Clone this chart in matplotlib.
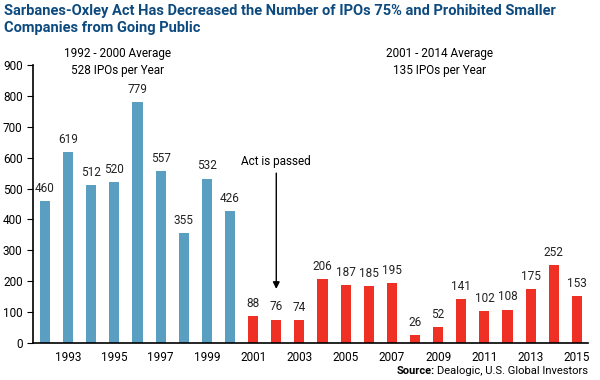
import matplotlib
matplotlib.use("Agg")
import matplotlib.pyplot as plt
import numpy as np

years = list(range(1992, 2016))
ipos = [460, 619, 512, 520, 779, 557, 355, 532, 426,
        88, 76, 74, 206, 187, 185, 195, 26, 52, 141, 102, 108, 175, 252, 153]
tick_years = [1993, 1995, 1997, 1999, 2001, 2003, 2005, 2007, 2009, 2011, 2013, 2015]
blue = "#5a9fc2"
red = "#ee3124"
title_color = "#0d4a7e"

plt.rcParams['font.family'] = ['Roboto', 'DejaVu Sans']

fig = plt.figure(figsize=(6, 3.8), dpi=100)
ax = fig.add_axes([33/600, 1-343/380, (588-33)/600, (343-65)/380])

x = np.arange(len(years))
colors = [blue if y <= 2000 else red for y in years]
ax.bar(x, ipos, width=0.44, color=colors)
for xi, v in zip(x, ipos):
    ax.text(xi, v + 20, str(v), ha='center', va='bottom', fontsize=8.5, color='#222222')

ax.set_xlim(-0.52, len(years) - 0.52)
ax.set_ylim(0, 900)
ax.set_yticks(range(0, 901, 100))
ax.set_xticks([years.index(y) for y in tick_years])
ax.set_xticklabels([str(y) for y in tick_years])
ax.tick_params(axis='x', length=0, labelsize=8.5, pad=6)
ax.tick_params(axis='y', length=4, labelsize=8.5, direction='out')
for s in ['top', 'right']:
    ax.spines[s].set_visible(False)
ax.spines['left'].set_linewidth(1.2)
ax.spines['bottom'].set_linewidth(1.2)

# arrow for Act
act_i = years.index(2002)
ax.annotate('', xy=(act_i, 175), xytext=(act_i, 550),
            arrowprops=dict(arrowstyle='-|>', color='black', lw=1, mutation_scale=10,
                            shrinkA=0, shrinkB=0))
ax.text(act_i, 565, 'Act is passed', ha='center', va='bottom', fontsize=8.5)

fig.text(118/600, 1-62/380, '1992 - 2000 Average\n528 IPOs per Year', ha='center', va='center',
         fontsize=8.5, linespacing=1.4)
fig.text(440/600, 1-62/380, '2001 - 2014 Average\n135 IPOs per Year', ha='center', va='center',
         fontsize=8.5, linespacing=1.4)

fig.text(4/600, 1-4/380, 'Sarbanes-Oxley Act Has Decreased the Number of IPOs 75% and Prohibited Smaller\nCompanies from Going Public',
         ha='left', va='top', fontsize=10.5, fontweight='bold', color=title_color, linespacing=1.3)

src = fig.text(588/600, 1-371/380, 'Dealogic, U.S. Global Investors', ha='right', va='center', fontsize=8)
fig.canvas.draw()
r = fig.canvas.get_renderer()
bb = src.get_window_extent(r)
fig.text(bb.x0/600 - 2/600, 1-371/380, 'Source:', ha='right', va='center', fontsize=8, fontweight='bold')

fig.savefig('out.png', dpi=100)
